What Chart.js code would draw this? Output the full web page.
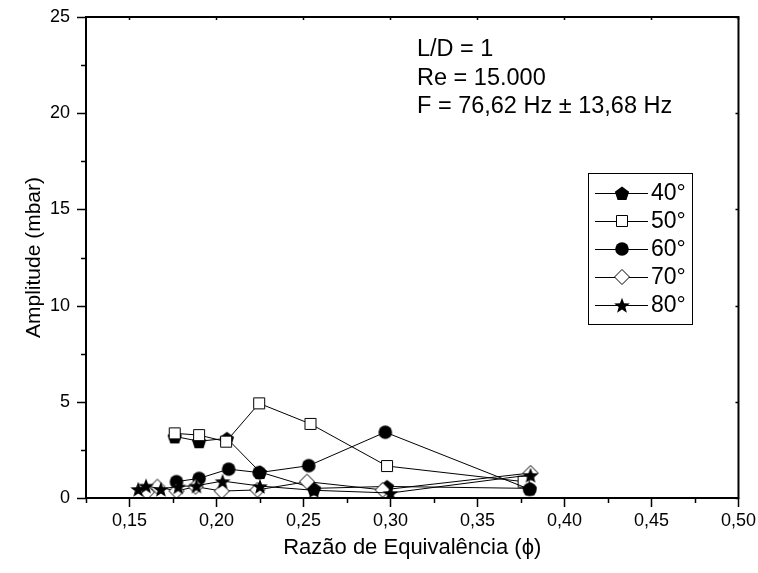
<!DOCTYPE html>
<html>
<head>
<meta charset="utf-8">
<script src="https://cdn.jsdelivr.net/npm/chart.js@4/dist/chart.umd.min.js"></script>
<style>
  html, body { margin: 0; padding: 0; background: #fff; }
  #wrap { width: 758px; height: 573px; }
</style>
</head>
<body>
<div id="wrap"><canvas id="chart" width="758" height="573"></canvas></div>
<script>
// Amplitude x razão de equivalência, L/D = 1, Re = 15.000

const seriesLabels = ['40°', '50°', '60°', '70°', '80°'];

const phi40 = [0.176, 0.190, 0.206, 0.225, 0.256, 0.298, 0.380];
const amp40 = [3.20, 2.95, 3.10, 1.35, 0.50, 0.60, 0.50];

const phi50 = [0.176, 0.190, 0.2055, 0.2245, 0.254, 0.298, 0.3765];
const amp50 = [3.36, 3.27, 2.93, 4.92, 3.85, 1.66, 0.85];

const phi60 = [0.177, 0.190, 0.207, 0.2245, 0.253, 0.297, 0.380];
const amp60 = [0.85, 1.02, 1.50, 1.32, 1.68, 3.42, 0.45];

const phi70 = [0.160, 0.166, 0.177, 0.188, 0.203, 0.2235, 0.252, 0.2955, 0.3805];
const amp70 = [0.30, 0.59, 0.36, 0.59, 0.36, 0.42, 0.85, 0.42, 1.30];

const phi80 = [0.155, 0.1595, 0.168, 0.178, 0.1885, 0.2035, 0.225, 0.256, 0.300, 0.3805];
const amp80 = [0.47, 0.64, 0.47, 0.60, 0.64, 0.88, 0.62, 0.40, 0.26, 1.20];

const xTickMin = 0.125, xTickMax = 0.50, xStep = 0.025;
const yTickMin = 0, yTickMax = 25, yStep = 2.5;

const notes = ['L/D = 1', 'Re = 15.000', 'F = 76,62 Hz ± 13,68 Hz'];

const FONT = "'Liberation Sans', Arial, sans-serif";

// marker images (pentagon and filled star are not built into Chart.js)
function marker(kind) {
    const s = 18, c = document.createElement('canvas');
    c.width = s; c.height = s;
    const g = c.getContext('2d');
    const m = s / 2;
    g.lineWidth = 1;
    g.strokeStyle = '#000';
    g.beginPath();
    if (kind === 'pentagon') {
        for (let k = 0; k < 5; k++) {
            const a = -Math.PI / 2 + k * 2 * Math.PI / 5;
            g.lineTo(m + 7.5 * Math.cos(a), m + 1 + 7.5 * Math.sin(a));
        }
        g.closePath();
        g.fillStyle = '#000'; g.fill();
    } else if (kind === 'square') {
        g.rect(m - 5.5, m - 5.5, 11, 11);
        g.fillStyle = '#fff'; g.fill(); g.stroke();
    } else if (kind === 'circle') {
        g.arc(m, m, 6.8, 0, Math.PI * 2);
        g.fillStyle = '#000'; g.fill();
    } else if (kind === 'diamond') {
        g.moveTo(m, m - 7.5); g.lineTo(m + 7.5, m); g.lineTo(m, m + 7.5); g.lineTo(m - 7.5, m);
        g.closePath();
        g.fillStyle = '#fff'; g.fill(); g.stroke();
    } else if (kind === 'star') {
        for (let k = 0; k < 10; k++) {
            const r = k % 2 ? 3.5 : 8.3;
            const a = -Math.PI / 2 + k * Math.PI / 5;
            g.lineTo(m + r * Math.cos(a), m + 1 + r * Math.sin(a));
        }
        g.closePath();
        g.fillStyle = '#000'; g.fill();
    }
    return c;
}

const markers = ['pentagon', 'square', 'circle', 'diamond', 'star'].map(marker);
const xs = [phi40, phi50, phi60, phi70, phi80];
const ys = [amp40, amp50, amp60, amp70, amp80];

const datasets = seriesLabels.map((label, i) => ({
    label,
    data: xs[i].map((x, j) => ({ x, y: ys[i][j] })),
    borderColor: '#000',
    borderWidth: 1,
    pointStyle: markers[i],
    pointRadius: 7,
    pointHoverRadius: 7,
    tension: 0,
    order: 5 - i,
}));

const isMajor = (v, step) => Math.abs(v / step - Math.round(v / step)) < 1e-6;

// ticks, frame, text box and legend
const decor = {
    id: 'decor',
    afterDraw(chart) {
        const { ctx, chartArea: a, scales } = chart;
        ctx.save();
        ctx.strokeStyle = '#000';
        ctx.lineWidth = 2;
        ctx.strokeRect(a.left, a.top, a.right - a.left, a.bottom - a.top);

        ctx.lineWidth = 1.5;
        ctx.beginPath();
        scales.x.ticks.forEach((t) => {
            const px = Math.round(scales.x.getPixelForValue(t.value)) + 0.5;
            const major = isMajor(t.value, 0.05);
            ctx.moveTo(px, a.bottom); ctx.lineTo(px, a.bottom + (major ? 9 : 5));
            ctx.moveTo(px, a.top); ctx.lineTo(px, a.top + (major ? 3 : 0));
        });
        scales.y.ticks.forEach((t) => {
            const py = Math.round(scales.y.getPixelForValue(t.value)) + 0.5;
            const major = isMajor(t.value, 5);
            ctx.moveTo(a.left, py); ctx.lineTo(a.left - (major ? 9 : 5), py);
            ctx.moveTo(a.right, py); ctx.lineTo(a.right - (major ? 3 : 0), py);
        });
        ctx.stroke();

        ctx.fillStyle = '#000';
        ctx.font = `23.5px ${FONT}`;
        ctx.textBaseline = 'alphabetic';
        ctx.textAlign = 'left';
        notes.forEach((s, i) => ctx.fillText(s, 417, 56 + i * 28.5));

        // legend box
        const bx = 588, by = 173, bw = 104, bh = 151;
        ctx.font = `23px ${FONT}`;
        ctx.lineWidth = 1;
        ctx.strokeRect(bx + 0.5, by + 0.5, bw, bh);
        seriesLabels.forEach((lab, i) => {
            const cy = by + 20 + i * 28;
            ctx.beginPath();
            ctx.moveTo(bx + 7, cy + 0.5); ctx.lineTo(bx + 60, cy + 0.5);
            ctx.stroke();
            ctx.drawImage(markers[i], bx + 34 - 9, cy - 9);
            ctx.textBaseline = 'middle';
            ctx.fillText(lab, bx + 63, cy + 1);
        });
        ctx.restore();
    },
};

new Chart(document.getElementById('chart'), {
    type: 'line',
    data: { datasets },
    plugins: [decor],
    options: {
        responsive: false,
        animation: false,
        layout: { padding: { top: 17, right: 17, left: 0, bottom: 0 } },
        plugins: { legend: { display: false }, tooltip: { enabled: false } },
        scales: {
            x: {
                type: 'linear',
                min: xTickMin,
                max: xTickMax,
                afterFit: (s) => { s.height = 75; },
                grid: { drawOnChartArea: false, tickLength: 10, tickColor: 'transparent' },
                border: { display: false },
                ticks: {
                    stepSize: xStep,
                    autoSkip: false,
                    maxRotation: 0,
                    padding: 2,
                    color: '#000',
                    font: { family: FONT, size: 18 },
                    callback: (v) => (isMajor(v, 0.05) && v > 0.13 ? v.toFixed(2).replace('.', ',') : ''),
                },
                title: {
                    display: true,
                    text: 'Razão de Equivalência (ϕ)',
                    color: '#000',
                    font: { family: FONT, size: 22 },
                    padding: { top: 0, bottom: 12 },
                },
            },
            y: {
                min: yTickMin,
                max: yTickMax,
                afterFit: (s) => { s.width = 86; },
                grid: { drawOnChartArea: false, tickLength: 10, tickColor: 'transparent' },
                border: { display: false },
                ticks: {
                    stepSize: yStep,
                    autoSkip: false,
                    padding: 6,
                    color: '#000',
                    font: { family: FONT, size: 18 },
                    callback: (v) => (isMajor(v, 5) ? String(v) : ''),
                },
                title: {
                    display: true,
                    text: 'Amplitude (mbar)',
                    color: '#000',
                    font: { family: FONT, size: 21 },
                    padding: { top: 22, bottom: 0 },
                },
            },
        },
    },
});
</script>
</body>
</html>
